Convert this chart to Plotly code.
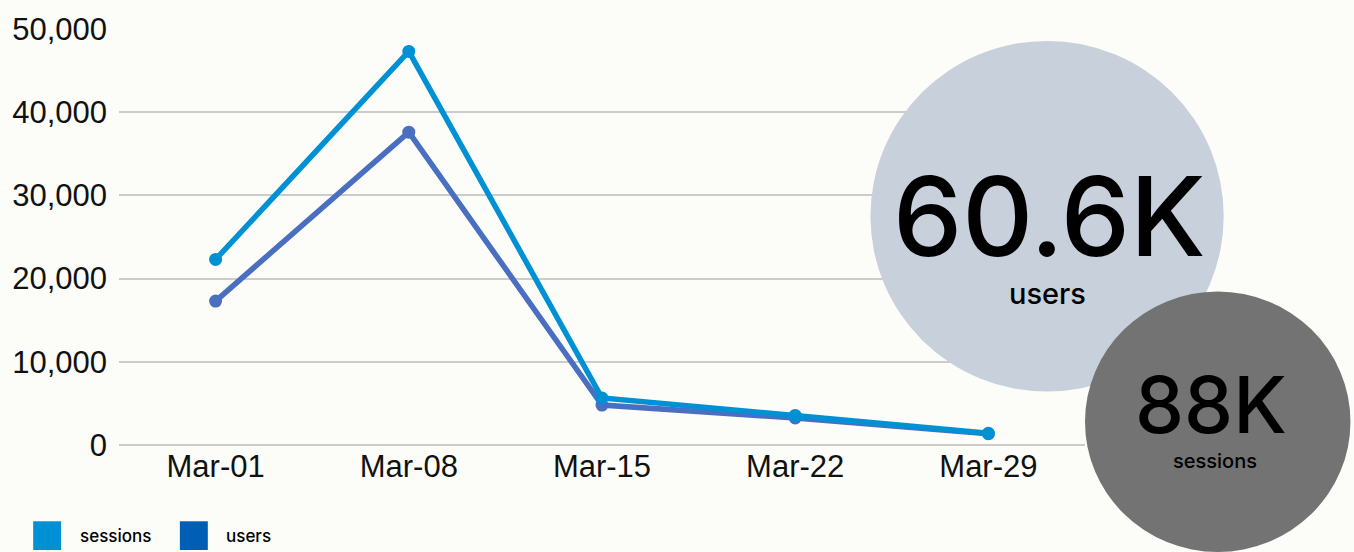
import plotly.graph_objects as go

# weekly values
weeks = ['Mar-01', 'Mar-08', 'Mar-15', 'Mar-22', 'Mar-29']
sessions = [22300, 47300, 5650, 3550, 1400]
users = [17300, 37600, 4800, 3250, 1350]
y_ticks = [0, 10000, 20000, 30000, 40000, 50000]

total_users = '60.6K'
total_sessions = '88K'

W, H = 1354, 552
L, R, T, B = 117, 269, 25, 107
pw, ph = W - L - R, H - T - B


def px_x(x):
    return (x - L) / pw


def px_y(y):
    return (H - B - y) / ph


fig = go.Figure()

fig.add_trace(go.Scatter(x=weeks, y=users, mode='lines+markers', name='users',
                         line=dict(color='#4A6EC0', width=5.5),
                         marker=dict(size=13, color='#4A6EC0')))
fig.add_trace(go.Scatter(x=weeks, y=sessions, mode='lines+markers', name='sessions',
                         line=dict(color='#0091D5', width=5.5),
                         marker=dict(size=13, color='#0091D5')))

# bubbles with totals
shapes = []
shapes.append(dict(type='circle', xref='paper', yref='paper', layer='above',
                   x0=px_x(870), x1=px_x(1224), y0=px_y(391), y1=px_y(37),
                   fillcolor='#C7D0DB', line=dict(width=0)))
shapes.append(dict(type='circle', xref='paper', yref='paper', layer='above',
                   x0=px_x(1085), x1=px_x(1351), y0=px_y(553), y1=px_y(290),
                   fillcolor='#737373', line=dict(width=0)))

# legend swatches
shapes.append(dict(type='rect', xref='paper', yref='paper', layer='above',
                   x0=px_x(31), x1=px_x(59), y0=px_y(551), y1=px_y(522),
                   fillcolor='#0091D5', line=dict(width=0)))
shapes.append(dict(type='rect', xref='paper', yref='paper', layer='above',
                   x0=px_x(178), x1=px_x(206), y0=px_y(551), y1=px_y(522),
                   fillcolor='#005EB5', line=dict(width=0)))

annotations = []
big_font = 'Inter'
annotations.append(dict(xref='paper', yref='paper', x=px_x(1049), y=px_y(214),
                        text=total_users, showarrow=False, xanchor='center', yanchor='middle',
                        font=dict(family=big_font, size=110, color='black', weight=500)))
annotations.append(dict(xref='paper', yref='paper', x=px_x(1047), y=px_y(292),
                        text='users', showarrow=False, xanchor='center', yanchor='middle',
                        font=dict(family=big_font, size=29, color='black', weight=500)))
annotations.append(dict(xref='paper', yref='paper', x=px_x(1211), y=px_y(404),
                        text=total_sessions, showarrow=False, xanchor='center', yanchor='middle',
                        font=dict(family=big_font, size=78, color='black', weight=500)))
annotations.append(dict(xref='paper', yref='paper', x=px_x(1215), y=px_y(461),
                        text='sessions', showarrow=False, xanchor='center', yanchor='middle',
                        font=dict(family=big_font, size=20, color='black', weight=500)))
annotations.append(dict(xref='paper', yref='paper', x=px_x(76), y=px_y(537),
                        text='sessions', showarrow=False, xanchor='left', yanchor='middle',
                        font=dict(family=big_font, size=17, color='black', weight=500)))
annotations.append(dict(xref='paper', yref='paper', x=px_x(222), y=px_y(537),
                        text='users', showarrow=False, xanchor='left', yanchor='middle',
                        font=dict(family=big_font, size=17, color='black', weight=500)))

fig.update_layout(
    width=W, height=H,
    margin=dict(l=L, r=R, t=T, b=B),
    paper_bgcolor='#FCFDF9',
    plot_bgcolor='#FCFDF9',
    showlegend=False,
    shapes=shapes,
    annotations=annotations,
    xaxis=dict(
        type='category',
        range=[-0.5, 4.5],
        showgrid=False,
        zeroline=False,
        showline=False,
        ticks='',
        ticklabelstandoff=0,
        tickfont=dict(family='Liberation Sans', size=31, color='#111111'),
    ),
    yaxis=dict(
        range=[0, 50000],
        tickvals=y_ticks,
        tickformat=',d',
        showgrid=True,
        gridcolor='#CCCCCC',
        gridwidth=1.5,
        zeroline=True,
        zerolinecolor='#CCCCCC',
        zerolinewidth=1.5,
        showline=False,
        ticks='',
        ticklabelstandoff=11,
        tickfont=dict(family='Liberation Sans', size=31, color='#111111'),
    ),
)

# drop the default page margin so the figure sits at the window's corner
fig.write_html("out.html", config={'displayModeBar': False},
               post_script="document.body.style.margin='0';")
